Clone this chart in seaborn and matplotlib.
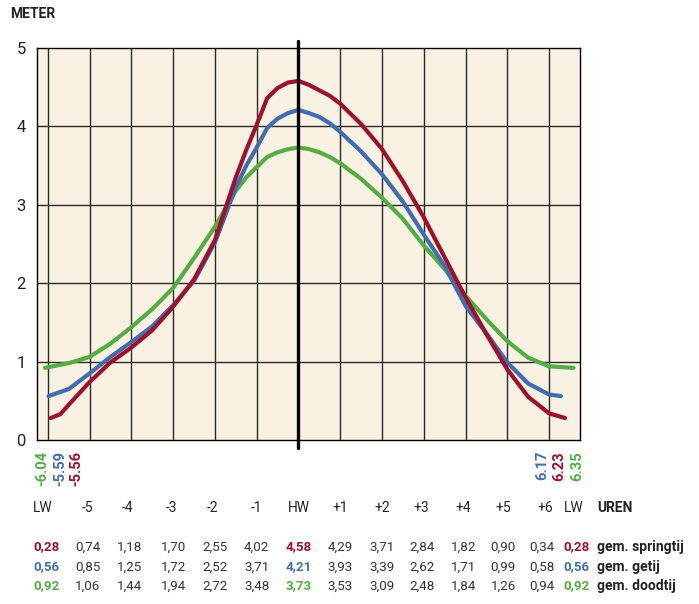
import matplotlib
matplotlib.use("Agg")
import matplotlib.pyplot as plt
import matplotlib.transforms as mtransforms
import seaborn as sns
import pandas as pd

# ---------------- data ----------------
series_names = ["gem. springtij", "gem. getij", "gem. doodtij"]
series_colors = ["#A0102A", "#3F6DB4", "#52AE42"]

# curve samples (hours relative to HW, metres)
spring_t = [-5.933, -5.7, -5.5, -5, -4.5, -4, -3.5, -3, -2.5, -2, -1.5, -1.25, -1, -0.75, -0.5, -0.25,
            0, 0.25, 0.5, 0.75, 1, 1.5, 2, 2.5, 3, 3.5, 4, 4.5, 5, 5.5, 6, 6.383]
spring_v = [0.28, 0.33, 0.45, 0.74, 0.99, 1.18, 1.40, 1.70, 2.05, 2.55, 3.35, 3.70, 4.02, 4.36, 4.49, 4.56,
            4.58, 4.53, 4.46, 4.39, 4.29, 4.03, 3.71, 3.30, 2.84, 2.33, 1.82, 1.35, 0.90, 0.55, 0.34, 0.28]

getij_t = [-5.983, -5.5, -5, -4.5, -4, -3.5, -3, -2.5, -2, -1.5, -1.25, -1, -0.75, -0.5, -0.25,
           0, 0.25, 0.5, 0.75, 1, 1.5, 2, 2.5, 3, 3.5, 4, 4.5, 5, 5.5, 6, 6.283]
getij_v = [0.56, 0.65, 0.85, 1.06, 1.25, 1.45, 1.72, 2.03, 2.52, 3.22, 3.50, 3.73, 3.98, 4.10, 4.17,
           4.21, 4.17, 4.12, 4.04, 3.93, 3.68, 3.39, 3.04, 2.62, 2.22, 1.71, 1.36, 0.99, 0.72, 0.58, 0.56]

dood_t = [-6.067, -5.5, -5, -4.5, -4, -3.5, -3, -2.5, -2, -1.5, -1.25, -1, -0.75, -0.5, -0.25,
          0, 0.25, 0.5, 0.75, 1, 1.5, 2, 2.5, 3, 3.5, 4, 4.5, 5, 5.5, 6, 6.583]
dood_v = [0.92, 0.98, 1.06, 1.23, 1.44, 1.67, 1.94, 2.32, 2.72, 3.18, 3.35, 3.48, 3.61, 3.67, 3.71,
          3.73, 3.71, 3.67, 3.61, 3.53, 3.33, 3.09, 2.82, 2.48, 2.18, 1.84, 1.54, 1.26, 1.05, 0.94, 0.92]

# LW time labels (hh.mm)
start_labels = ["-6.04", "-5.59", "-5.56"]          # doodtij, getij, springtij
start_colors = ["#52AE42", "#3F6DB4", "#A0102A"]
end_labels = ["6.17", "6.23", "6.35"]               # getij, springtij, doodtij
end_colors = ["#3F6DB4", "#A0102A", "#52AE42"]

# table
hour_labels = ["LW", "-5", "-4", "-3", "-2", "-1", "HW", "+1", "+2", "+3", "+4", "+5", "+6", "LW"]
table_spring = [0.28, 0.74, 1.18, 1.70, 2.55, 4.02, 4.58, 4.29, 3.71, 2.84, 1.82, 0.90, 0.34, 0.28]
table_getij = [0.56, 0.85, 1.25, 1.72, 2.52, 3.71, 4.21, 3.93, 3.39, 2.62, 1.71, 0.99, 0.58, 0.56]
table_dood = [0.92, 1.06, 1.44, 1.94, 2.72, 3.48, 3.73, 3.53, 3.09, 2.48, 1.84, 1.26, 0.94, 0.92]
y_ticks = [0, 1, 2, 3, 4, 5]

# ---------------- styling ----------------
sns.set_style("white")
plt.rcParams["font.family"] = ["Roboto", "DejaVu Sans"]

fig = plt.figure(figsize=(6.99, 6.04), dpi=100)
ax = fig.add_axes([37 / 699, 1 - 440 / 604, 543 / 699, 392 / 604])
ax.set_facecolor("#F9F1E1")

df = pd.concat([
    pd.DataFrame({"t": spring_t, "v": spring_v, "s": series_names[0]}),
    pd.DataFrame({"t": getij_t, "v": getij_v, "s": series_names[1]}),
    pd.DataFrame({"t": dood_t, "v": dood_v, "s": series_names[2]}),
])

# grid
for h in range(-6, 7):
    if h != 0:
        ax.axvline(h, color="#2a2a2a", lw=1.0, zorder=1)
for yv in [1, 2, 3, 4]:
    ax.axhline(yv, color="#2a2a2a", lw=1.0, zorder=1)

sns.lineplot(data=df, x="t", y="v", hue="s", palette=dict(zip(series_names, series_colors)),
             hue_order=[series_names[2], series_names[1], series_names[0]],
             estimator=None, sort=False, lw=3.0, legend=False, ax=ax, zorder=3,
             solid_joinstyle="round", solid_capstyle="round")

ax.axvline(0, ymin=-0.02, ymax=1.017, color="black", lw=2.4, clip_on=False, zorder=4)

ax.set_xlim(-6.26, 6.74)
ax.set_ylim(0, 5)
ax.set_yticks(y_ticks)
ax.set_yticklabels([str(v) for v in y_ticks], fontsize=12, color="#222222")
ax.set_xticks([])
ax.tick_params(axis="y", length=0, pad=8)
ax.set_xlabel("")
ax.set_ylabel("")
for sp in ax.spines.values():
    sp.set_visible(True)
    sp.set_color("black")
    sp.set_linewidth(1.0)

fig.text(10 / 699, 1 - 14 / 604, "METER", fontsize=10, fontweight="bold",
         color="#222222", va="center", ha="left")

# LW time labels below the axis
trans_axfig = mtransforms.blended_transform_factory(ax.transData, fig.transFigure)
start_x = [-6.14, -5.70, -5.33]
end_x = [5.83, 6.24, 6.67]
for lab, col, xx in zip(start_labels, start_colors, start_x):
    ax.text(xx, 1 - 451 / 604, lab, rotation=90, ha="center", va="top", color=col,
            fontsize=10.5, fontweight="bold", transform=trans_axfig, clip_on=False)
for lab, col, xx in zip(end_labels, end_colors, end_x):
    ax.text(xx, 1 - 451 / 604, lab, rotation=90, ha="center", va="top", color=col,
            fontsize=10.5, fontweight="bold", transform=trans_axfig, clip_on=False)

# table below
hdr_x = [-6.13] + [-5.05, -4.1, -3.05, -2.05, -1.0, 0, 1.0, 2.0, 2.95, 3.95, 4.9, 5.9] + [6.6]
val_x = [-6.03] + [-5.05, -4.05, -3.0, -2.0, -1.0, 0, 1.0, 2.0, 2.95, 3.95, 4.9, 5.82] + [6.65]
uren_x = 7.15
hdr_y = 1 - 508 / 604
row_y = [1 - 547 / 604, 1 - 567 / 604, 1 - 586 / 604]
for xx, lab in zip(hdr_x, hour_labels):
    ax.text(xx, hdr_y, lab, ha="center", va="center", fontsize=10, color="#222222",
            transform=trans_axfig, clip_on=False)
ax.text(uren_x, hdr_y, "UREN", ha="left", va="center", fontsize=10, color="#222222",
        fontweight="bold", transform=trans_axfig, clip_on=False)

rows = [table_spring, table_getij, table_dood]
for vals, yy, col, name in zip(rows, row_y, series_colors, series_names):
    for i, (xx, v) in enumerate(zip(val_x, vals)):
        hl = i in (0, 6, len(vals) - 1)
        ax.text(xx, yy, f"{v:.2f}".replace(".", ","), ha="center", va="center",
                fontsize=9.6, color=col if hl else "#333333",
                fontweight="bold" if hl else "normal",
                transform=trans_axfig, clip_on=False)
    ax.text(uren_x, yy, name, ha="left", va="center", fontsize=10, color="#222222",
            fontweight="bold", transform=trans_axfig, clip_on=False)

fig.savefig("out.png", dpi=100)
